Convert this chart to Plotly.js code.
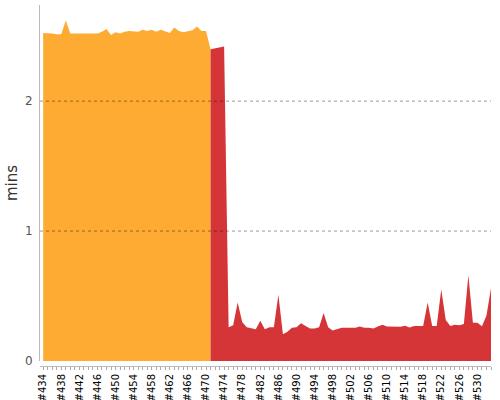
<!DOCTYPE html>
<html>
<head>
<meta charset="utf-8">
<script src="https://cdn.plot.ly/plotly-3.0.1.min.js"></script>
<style>
  html, body { margin: 0; padding: 0; background: #fff; }
  #chart { width: 500px; height: 400px; }
</style>
</head>
<body>
<div id="chart"></div>
<script>
// build numbers and durations (mins)
var orangeBuilds = [434,435,436,437,438,439,440,441,442,443,444,445,446,447,448,449,450,451,452,
    453,454,455,456,457,458,459,460,461,462,463,464,465,466,467,468,469,470,471];
var orangeMins = [2.525,2.525,2.52,2.515,2.515,2.62,2.52,2.52,2.52,2.52,2.52,2.525,2.52,2.535,2.555,2.51,2.53,2.52,2.535,
    2.54,2.535,2.535,2.55,2.54,2.55,2.535,2.55,2.535,2.525,2.567,2.54,2.53,2.535,2.545,2.575,2.54,2.54,2.40];

var redBuilds = [471,472,473,474,475,476,477,478,479,480,481,482,483,484,485,486,487,488,489,490,
    491,492,493,494,495,496,497,498,499,500,501,502,503,504,505,506,507,508,509,510,
    511,512,513,514,515,516,517,518,519,520,521,522,523,524,525,526,527,528,529,530,
    531,532,533];
var redMins = [2.40,2.405,2.415,2.42,0.26,0.275,0.45,0.30,0.26,0.255,0.245,0.31,0.245,0.26,0.26,0.51,0.205,0.225,0.255,0.26,
    0.29,0.27,0.25,0.25,0.26,0.37,0.26,0.235,0.245,0.255,0.255,0.255,0.256,0.265,0.255,0.255,0.25,0.265,0.278,0.265,
    0.264,0.264,0.264,0.272,0.258,0.27,0.27,0.27,0.45,0.27,0.27,0.55,0.315,0.27,0.278,0.275,0.285,0.66,0.295,0.295,
    0.267,0.35,0.56];

var gridValues = [1, 2];

var traces = [
  {
    x: orangeBuilds, y: orangeMins, type: 'scatter', mode: 'lines',
    fill: 'tozeroy', fillcolor: '#fdab33',
    line: { width: 0, color: '#fdab33' }, hoverinfo: 'skip'
  },
  {
    x: redBuilds, y: redMins, type: 'scatter', mode: 'lines',
    fill: 'tozeroy', fillcolor: '#d63538',
    line: { width: 0, color: '#d63538' }, hoverinfo: 'skip'
  }
];

// dotted grid drawn over the areas, like the original
var gridShapes = gridValues.map(function (v) {
  return {
    type: 'line', layer: 'above', xref: 'paper', yref: 'y',
    x0: 0, x1: 1, y0: v, y1: v,
    line: { color: 'rgba(0,0,0,0.4)', width: 1, dash: 'dot' }
  };
});

var layout = {
  width: 500, height: 400,
  margin: { l: 40, r: 9, t: 5, b: 34 },
  paper_bgcolor: '#fff', plot_bgcolor: 'rgba(0,0,0,0)',
  showlegend: false,
  font: { family: 'DejaVu Sans', size: 12, color: '#555' },
  shapes: gridShapes,
  xaxis: {
    range: [433.3, 533],
    anchor: 'free', position: 0,
    tickmode: 'linear', tick0: 434, dtick: 4, tickprefix: '#',
    tickangle: -90,
    tickfont: { size: 10, color: '#000' },
    ticks: 'outside', ticklen: 3, tickcolor: '#aaa',
    minor: { dtick: 1, tick0: 434, ticks: 'outside', ticklen: 3, tickcolor: '#aaa', showgrid: false },
    showline: true, linecolor: '#bbb', linewidth: 1,
    showgrid: false, zeroline: false
  },
  yaxis: {
    domain: [0.0139, 1],
    range: [0, 2.74],
    tickvals: [0, 1, 2],
    tickfont: { size: 12, color: '#555' },
    ticks: '', ticklabelstandoff: 4,
    showline: true, linecolor: '#bbb', linewidth: 1,
    showgrid: false, zeroline: false,
    title: { text: 'mins', font: { size: 15, color: '#333' }, standoff: 3 }
  }
};

Plotly.newPlot('chart', traces, layout, { staticPlot: true });
</script>
</body>
</html>
